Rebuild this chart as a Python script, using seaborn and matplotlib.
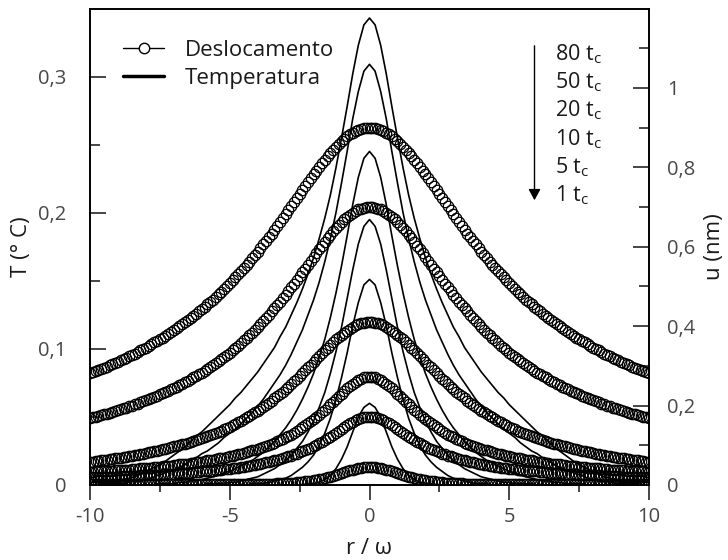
import numpy as np
import pandas as pd
import matplotlib
matplotlib.use('Agg')
import matplotlib.pyplot as plt
import seaborn as sns
from matplotlib.lines import Line2D
from matplotlib.ticker import FixedLocator

sns.set_theme(style='ticks')
plt.rcParams['font.family'] = ['Open Sans', 'DejaVu Sans']
plt.rcParams['axes.unicode_minus'] = False
plt.rcParams['mathtext.fontset'] = 'custom'
plt.rcParams['mathtext.rm'] = 'Open Sans'

# ---------------- data (profiles are symmetric in r) ----------------
times = ['80', '50', '20', '10', '5', '1']          # t / t_c, labels of the six curves

# sample positions r/omega (half profiles, 0..10)
r_T_half = np.round(np.arange(0, 10.001, 0.2), 1)
r_u_half = np.round(np.arange(0, 10.001, 0.1), 1)

# Temperature T (units of 1e-3 degC) at r = 0, 0.2, ..., 10
T_80tc = [343, 338, 323, 302, 278, 255, 233, 213, 196, 181, 167, 155, 144, 134, 125, 116, 109, 101, 95, 89,
          83, 78, 73, 68, 64, 59, 55, 51, 47, 43, 39, 36, 32, 28, 25, 22, 19, 16, 14, 12,
          10, 8, 6, 5, 4, 3, 2, 1, 1, 0, 0]
T_50tc = [309, 304, 289, 269, 245, 222, 200, 181, 164, 149, 136, 125, 114, 105, 96, 88, 81, 75, 69, 63,
          58, 53, 49, 45, 41, 38, 35, 31, 28, 25, 23, 20, 18, 15, 13, 11, 10, 8, 7, 5,
          4, 3, 3, 2, 1, 1, 1, 0, 0, 0, 0]
T_20tc = [245, 240, 226, 206, 183, 161, 141, 123, 107, 94, 82, 72, 63, 55, 48, 42, 37, 32, 28, 24,
          21, 18, 16, 14, 12, 10, 9, 7, 6, 5, 4, 3, 3, 2, 2, 1, 1, 1, 1, 0,
          0, 0, 0, 0, 0, 0, 0, 0, 0, 0, 0]
T_10tc = [195, 190, 177, 158, 137, 116, 98, 82, 68, 57, 47, 39, 32, 27, 22, 18, 15, 12, 10, 8,
          6, 5, 4, 3, 2, 2, 1, 1, 1, 1, 0, 0, 0, 0, 0, 0, 0, 0, 0, 0,
          0, 0, 0, 0, 0, 0, 0, 0, 0, 0, 0]
T_5tc = [151, 147, 134, 117, 97, 79, 63, 49, 38, 29, 22, 17, 13, 10, 7, 5, 4, 3, 2, 1,
         1, 1, 0, 0, 0, 0, 0, 0, 0, 0, 0, 0, 0, 0, 0, 0, 0, 0, 0, 0,
         0, 0, 0, 0, 0, 0, 0, 0, 0, 0, 0]
T_1tc = [60, 57, 50, 39, 28, 19, 12, 7, 4, 2, 1, 1, 0, 0, 0, 0, 0, 0, 0, 0,
         0, 0, 0, 0, 0, 0, 0, 0, 0, 0, 0, 0, 0, 0, 0, 0, 0, 0, 0, 0,
         0, 0, 0, 0, 0, 0, 0, 0, 0, 0, 0]

# Displacement u (pm = 1e-3 nm) at r = 0, 0.1, ..., 10
u_80tc = [900, 900, 899, 897, 894, 891, 887, 883, 878, 872, 866, 859, 852, 844, 836, 828, 819, 810, 801, 791,
          782, 772, 762, 752, 742, 732, 722, 712, 702, 692, 682, 672, 662, 652, 643, 633, 624, 615, 606, 597,
          588, 579, 571, 562, 554, 546, 538, 531, 523, 516, 508, 501, 494, 487, 480, 474, 467, 461, 455, 449,
          443, 437, 431, 426, 420, 415, 410, 405, 400, 395, 390, 385, 380, 376, 371, 367, 363, 359, 354, 350,
          346, 343, 339, 335, 331, 328, 324, 321, 317, 314, 311, 307, 304, 301, 298, 295, 292, 289, 286, 284, 281]
u_50tc = [700, 700, 698, 696, 694, 690, 686, 681, 675, 669, 662, 655, 647, 639, 630, 621, 612, 603, 594, 584,
          574, 565, 555, 545, 536, 526, 516, 507, 498, 489, 479, 471, 462, 453, 445, 437, 429, 421, 413, 405,
          398, 391, 384, 377, 370, 364, 357, 351, 345, 339, 333, 328, 322, 317, 312, 307, 302, 297, 292, 288,
          283, 279, 275, 271, 267, 263, 259, 255, 251, 248, 244, 241, 237, 234, 231, 228, 225, 222, 219, 216,
          213, 211, 208, 205, 203, 200, 198, 195, 193, 191, 188, 186, 184, 182, 180, 178, 176, 174, 172, 170, 168]
u_20tc = [410, 410, 409, 407, 405, 402, 398, 394, 389, 384, 379, 373, 367, 360, 353, 346, 339, 332, 325, 318,
          310, 303, 296, 289, 282, 275, 268, 261, 254, 248, 242, 235, 229, 224, 218, 212, 207, 202, 197, 192,
          187, 183, 178, 174, 170, 166, 162, 158, 154, 151, 147, 144, 141, 137, 134, 131, 129, 126, 123, 120,
          118, 116, 113, 111, 109, 106, 104, 102, 100, 98, 97, 95, 93, 91, 90, 88, 86, 85, 83, 82,
          80, 79, 78, 76, 75, 74, 73, 71, 70, 69, 68, 67, 66, 65, 64, 63, 62, 61, 60, 59, 58]
u_10tc = [273, 272, 271, 268, 265, 260, 255, 250, 244, 237, 230, 224, 217, 210, 203, 196, 190, 183, 177, 171,
          165, 160, 155, 150, 145, 140, 136, 131, 127, 124, 120, 116, 113, 110, 107, 104, 101, 98, 96, 93,
          91, 89, 87, 85, 83, 81, 79, 77, 75, 74, 72, 71, 69, 68, 67, 65, 64, 63, 62, 60,
          59, 58, 57, 56, 55, 54, 53, 52, 52, 51, 50, 49, 48, 48, 47, 46, 45, 45, 44, 43,
          43, 42, 42, 41, 41, 40, 39, 39, 38, 38, 37, 37, 36, 36, 36, 35, 35, 34, 34, 33, 33]
u_5tc = [172, 172, 170, 168, 166, 163, 159, 155, 150, 146, 141, 136, 132, 127, 122, 118, 113, 109, 105, 101,
         98, 94, 91, 88, 85, 82, 79, 77, 74, 72, 70, 67, 65, 64, 62, 60, 58, 57, 55, 54,
         52, 51, 50, 49, 47, 46, 45, 44, 43, 42, 41, 40, 40, 39, 38, 37, 36, 36, 35, 34,
         34, 33, 33, 32, 31, 31, 30, 30, 29, 29, 28, 28, 27, 27, 27, 26, 26, 25, 25, 25,
         24, 24, 24, 23, 23, 23, 22, 22, 22, 22, 21, 21, 21, 20, 20, 20, 20, 19, 19, 19, 19]
u_1tc = [46, 46, 45, 44, 43, 41, 39, 37, 35, 32, 30, 28, 26, 23, 21, 20, 18, 16, 15, 13,
         12, 11, 10, 9, 8, 7, 7, 6, 6, 5, 5, 4, 4, 4, 3, 3, 3, 3, 3, 3,
         3, 3, 3, 3, 3, 3, 3, 3, 3, 3, 3, 3, 3, 3, 3, 3, 3, 3, 3, 3,
         3, 3, 3, 3, 3, 3, 3, 3, 3, 3, 3, 3, 3, 3, 3, 3, 3, 3, 3, 3,
         3, 3, 3, 3, 3, 3, 3, 3, 3, 3, 3, 3, 3, 3, 3, 3, 3, 3, 3, 3, 3]

T_curves = [T_80tc, T_50tc, T_20tc, T_10tc, T_5tc, T_1tc]
u_curves = [u_80tc, u_50tc, u_20tc, u_10tc, u_5tc, u_1tc]


def full_profile(r_half, v_half, scale):
    r_half = np.asarray(r_half, float)
    v_half = np.asarray(v_half, float) * scale
    return (np.concatenate([-r_half[:0:-1], r_half]),
            np.concatenate([v_half[:0:-1], v_half]))


frames_T, frames_u = [], []
for t, Tv, uv in zip(times, T_curves, u_curves):
    r, v = full_profile(r_T_half, Tv, 1e-3)
    frames_T.append(pd.DataFrame({'r': r, 'T': v, 'curve': t}))
    r, v = full_profile(r_u_half, uv, 1e-3)
    frames_u.append(pd.DataFrame({'r': r, 'u': v, 'curve': t}))
df_T = pd.concat(frames_T, ignore_index=True)
df_u = pd.concat(frames_u, ignore_index=True)

# ---------------- figure ----------------
fig = plt.figure(figsize=(7.28, 5.6), dpi=100)
ax = fig.add_axes([90/728, 1-485/560, (649-90)/728, (485-8.5)/560])
ax2 = ax.twinx()

sns.lineplot(data=df_T, x='r', y='T', units='curve', estimator=None, sort=False, ax=ax,
             color='black', lw=1.2)
sns.lineplot(data=df_u, x='r', y='u', units='curve', estimator=None, sort=False, ax=ax2,
             color='black', marker='o', linestyle='none', markersize=7.5,
             markerfacecolor='none', markeredgecolor='black', markeredgewidth=0.9)

ax.set_xlim(-10, 10)
ax.set_ylim(0, 0.35)
ax2.set_ylim(0, 1.2)
ax.xaxis.set_major_locator(FixedLocator([-10, -5, 0, 5, 10]))
ax.xaxis.set_minor_locator(FixedLocator([-7.5, -2.5, 2.5, 7.5]))
ax.set_xticklabels(['-10', '-5', '0', '5', '10'])
ax.yaxis.set_major_locator(FixedLocator([0, 0.1, 0.2, 0.3]))
ax.yaxis.set_minor_locator(FixedLocator([0.05, 0.15, 0.25]))
ax.set_yticklabels(['0', '0,1', '0,2', '0,3'])
ax2.yaxis.set_major_locator(FixedLocator([0, 0.2, 0.4, 0.6, 0.8, 1.0]))
ax2.yaxis.set_minor_locator(FixedLocator([0.1, 0.3, 0.5, 0.7, 0.9, 1.1]))
ax2.set_yticklabels(['0', '0,2', '0,4', '0,6', '0,8', '1'])

tc = '#474747'
ax.tick_params(axis='x', which='major', direction='out', length=11, width=1.2, labelsize=14.5, labelcolor=tc, pad=5)
ax.tick_params(axis='x', which='minor', direction='out', length=5, width=1.2)
ax.tick_params(axis='y', which='major', direction='in', length=11.5, width=1.2, labelsize=14.5, labelcolor=tc, pad=17)
ax.tick_params(axis='y', which='minor', direction='in', length=7, width=1.2)
ax2.tick_params(axis='y', which='major', direction='in', length=11.5, width=1.2, labelsize=14.5, labelcolor=tc, pad=13)
ax2.tick_params(axis='y', which='minor', direction='in', length=7, width=1.2)
for a in (ax, ax2):
    for s in a.spines.values():
        s.set_linewidth(1.2)
        s.set_color('black')

ax.set_xlabel('r / ω', fontsize=16, color='#1a1a1a', labelpad=8)
ax.set_ylabel('T (° C)', fontsize=16, color='#1a1a1a', labelpad=4)
ax2.set_ylabel('u (nm)', fontsize=16, color='#1a1a1a', labelpad=6)

handles = [Line2D([], [], color='black', lw=1.0, marker='o', markersize=7.5,
                  markerfacecolor='white', markeredgecolor='black'),
           Line2D([], [], color='black', lw=2.5)]
leg = ax.legend(handles, ['Deslocamento', 'Temperatura'], loc='upper left', bbox_to_anchor=(0.059, 0.934),
                frameon=False, fontsize=16, handlelength=1.85, handletextpad=0.95, labelspacing=0.3,
                borderaxespad=0, borderpad=0)
for txt in leg.get_texts():
    txt.set_color('#1a1a1a')

ax.annotate('', xy=(534.5/728, 1-203/560), xytext=(534.5/728, 1-43/560), xycoords='figure fraction',
            arrowprops=dict(arrowstyle='-|>,head_length=0.55,head_width=0.3', color='black', lw=1.0))
baselines = [60, 88.3, 116.7, 145, 173.3, 201]
for t, y in zip(times, baselines):
    fig.text(555/728, 1-y/560, t + r' t$_\mathregular{c}$', fontsize=15.5, va='baseline', ha='left',
             color='#1a1a1a')

fig.savefig('out.png', dpi=100)
